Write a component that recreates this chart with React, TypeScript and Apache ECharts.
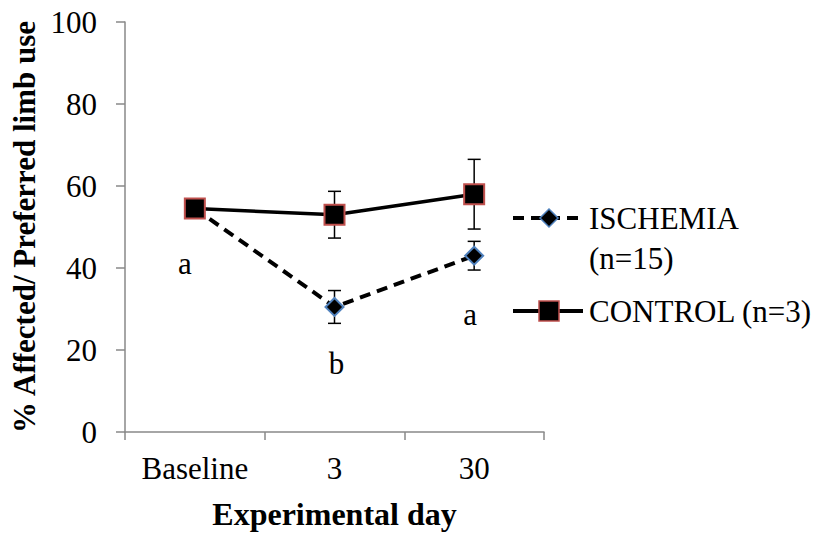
import React, { useEffect, useRef } from "react";
import * as echarts from "echarts";

const categories = ["Baseline", "3", "30"];
const ischemiaMean = [54.5, 30.5, 43.0];
const ischemiaErr = [1.0, 4.0, 3.5];
const controlMean = [54.5, 53.0, 58.0];
const controlErr = [0.5, 5.7, 8.5];
const yTicks = { min: 0, max: 100, interval: 20 };
const annotationCats = ["Baseline", "3", "30"];
const annotationValues = [41.2, 16.7, 28.6];
const annotationTexts = ["a", "b", "a"];
const annotationDx = [-10, 2, -4];
const seriesNames = ["ISCHEMIA (n=15)", "CONTROL (n=3)"];

const FONT = "Liberation Serif";
const FS = 31;

function errorSeries(means: number[], errs: number[], z: number) {
  return {
    type: "custom",
    z,
    silent: true,
    data: categories.map((c, i) => [i, means[i] - errs[i], means[i] + errs[i]]),
    renderItem: (params: any, api: any) => {
      const x = api.value(0);
      const lo = api.coord([x, api.value(1)]);
      const hi = api.coord([x, api.value(2)]);
      const w = 6.5;
      const style = { stroke: "#000", lineWidth: 1.5 };
      return {
        type: "group",
        children: [
          { type: "line", shape: { x1: lo[0], y1: lo[1], x2: hi[0], y2: hi[1] }, style },
          { type: "line", shape: { x1: hi[0] - w, y1: hi[1], x2: hi[0] + w, y2: hi[1] }, style },
          { type: "line", shape: { x1: lo[0] - w, y1: lo[1], x2: lo[0] + w, y2: lo[1] }, style },
        ],
      };
    },
  };
}

export default function App() {
  const ref = useRef<HTMLDivElement>(null);
  useEffect(() => {
    if (!ref.current) return;
    const chart = echarts.init(ref.current, null, { renderer: "svg" });
    const lx = 513;
    const tx = 589;
    const font = `${FS}px ${FONT}`;
    const option: any = {
      animation: false,
      backgroundColor: "#fff",
      textStyle: { fontFamily: FONT },
      grid: { left: 125, right: 281, top: 22, bottom: 100 },
      xAxis: {
        type: "category",
        data: categories,
        boundaryGap: true,
        name: "Experimental day",
        nameLocation: "middle",
        nameGap: 66,
        nameTextStyle: { fontFamily: FONT, fontSize: 32, fontWeight: "bold", color: "#000" },
        axisLine: { lineStyle: { color: "#898989", width: 1.5 } },
        axisTick: { show: true, length: 8, lineStyle: { color: "#898989", width: 1.5 } },
        axisLabel: { fontFamily: FONT, fontSize: FS, color: "#000", margin: 21 },
        splitLine: { show: false },
      },
      yAxis: {
        type: "value",
        min: yTicks.min,
        max: yTicks.max,
        interval: yTicks.interval,
        name: "% Affected/ Preferred limb use",
        nameLocation: "middle",
        nameGap: 85,
        nameTextStyle: { fontFamily: FONT, fontSize: FS, fontWeight: "bold", color: "#000" },
        axisLine: { show: true, lineStyle: { color: "#898989", width: 1.5 } },
        axisTick: { show: true, length: 9, lineStyle: { color: "#898989", width: 1.5 } },
        axisLabel: { fontFamily: FONT, fontSize: FS, color: "#000", margin: 28 },
        splitLine: { show: false },
      },
      series: [
        errorSeries(ischemiaMean, ischemiaErr, 1),
        {
          name: seriesNames[0],
          type: "line",
          z: 2,
          data: ischemiaMean,
          symbol: "diamond",
          symbolSize: 18,
          lineStyle: { color: "#000", width: 4, type: [11, 7] },
          itemStyle: { color: "#000", borderColor: "#4f81bd", borderWidth: 2 },
        },
        errorSeries(controlMean, controlErr, 3),
        {
          name: seriesNames[1],
          type: "line",
          z: 4,
          data: controlMean,
          symbol: "rect",
          symbolSize: 20,
          lineStyle: { color: "#000", width: 3.5 },
          itemStyle: { color: "#000", borderColor: "#c0504d", borderWidth: 2 },
        },
        {
          type: "custom",
          z: 5,
          silent: true,
          data: annotationCats.map((c, i) => [categories.indexOf(c), annotationValues[i]]),
          renderItem: (params: any, api: any) => {
            const p = api.coord([api.value(0), api.value(1)]);
            const i = params.dataIndex;
            return {
              type: "text",
              x: p[0] + annotationDx[i],
              y: p[1],
              style: {
                text: annotationTexts[i],
                font,
                fill: "#000",
                align: "center",
                verticalAlign: "middle",
              },
            };
          },
        },
      ],
      graphic: [
        { type: "line", shape: { x1: lx, y1: 218, x2: lx + 70, y2: 218 }, style: { stroke: "#000", lineWidth: 4, lineDash: [11, 7] } },
        { type: "polygon", shape: { points: [[lx + 36, 209], [lx + 45, 218], [lx + 36, 227], [lx + 27, 218]] }, style: { fill: "#000", stroke: "#4f81bd", lineWidth: 1.5 } },
        { type: "text", x: tx, y: 218, style: { text: "ISCHEMIA", font, fill: "#000", verticalAlign: "middle" } },
        { type: "text", x: tx, y: 258, style: { text: "(n=15)", font, fill: "#000", verticalAlign: "middle" } },
        { type: "line", shape: { x1: lx, y1: 311, x2: lx + 70, y2: 311 }, style: { stroke: "#000", lineWidth: 4 } },
        { type: "rect", shape: { x: lx + 26, y: 301, width: 20, height: 20 }, style: { fill: "#000", stroke: "#c0504d", lineWidth: 1.5 } },
        { type: "text", x: tx, y: 311, style: { text: "CONTROL (n=3)", font, fill: "#000", verticalAlign: "middle" } },
      ],
    };
    chart.setOption(option);
    return () => chart.dispose();
  }, []);
  return (
    <div
      ref={ref}
      style={{ position: "fixed", left: 0, top: 0, width: 825, height: 535, background: "#fff" }}
    />
  );
}
